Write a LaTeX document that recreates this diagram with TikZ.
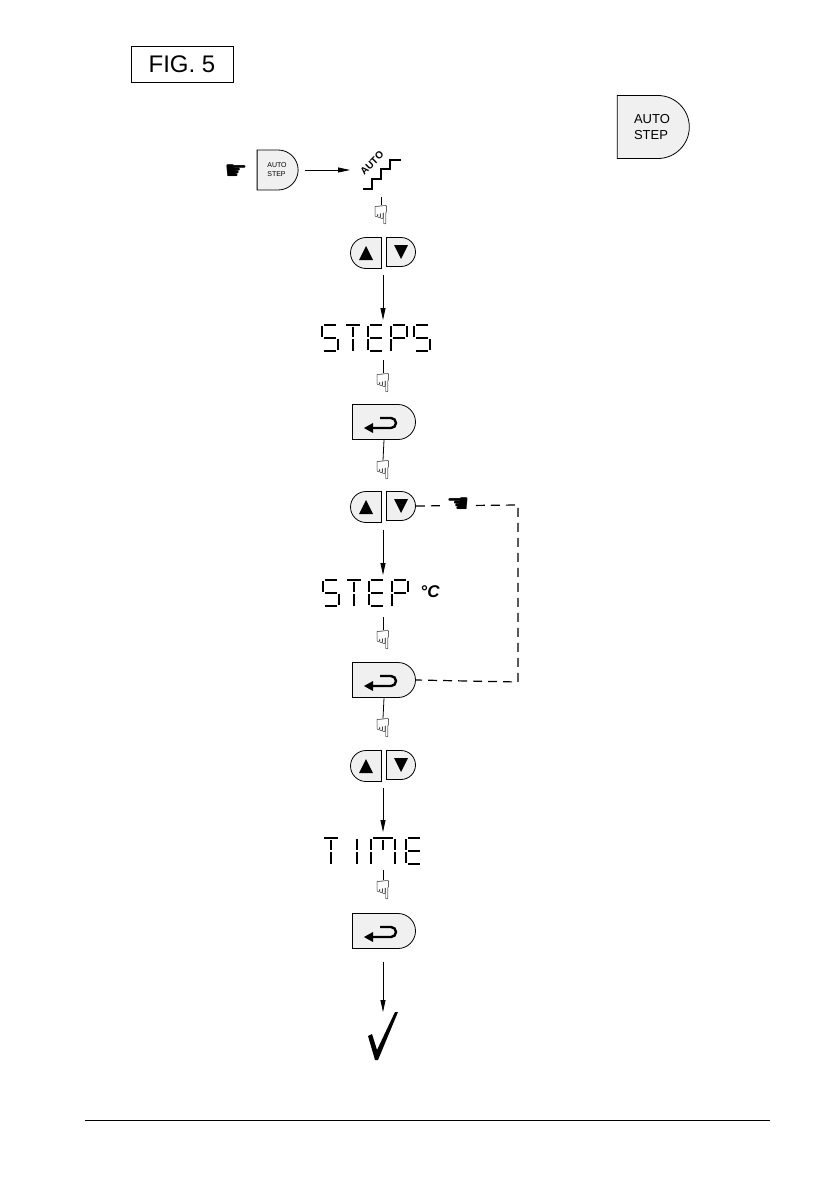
\documentclass[tikz,border=0pt]{standalone}
\usepackage{fontspec}
\setmainfont{Liberation Sans}
\newfontfamily\djv{DejaVu Sans}
\usetikzlibrary{shapes.misc,arrows.meta}
\tikzset{
  seg/.style={line width=1.4pt},
  btn/.style={draw,line width=0.8pt,fill=gray!12,rounded rectangle,inner sep=0pt},
  dbtn/.style={btn,rounded rectangle west arc=none},
  ubtn/.style={btn,rounded rectangle east arc=none},
  hand/.style={font=\djv\fontsize{26}{26}\selectfont,inner sep=0pt},
  conn/.style={line width=0.8pt},
  arr/.style={conn,-{Triangle[length=12pt,width=5pt]}},
  segS/.pic={\draw[seg] (2,0)--(14,0) (0,1)--(0,12) (2,13)--(14,13) (16,14)--(16,25) (2,26)--(14,26);},
  segT/.pic={\draw[seg] (1,0)--(15,0) (8,2)--(8,12) (8,14)--(8,26);},
  segE/.pic={\draw[seg] (2,0)--(14,0) (0,1)--(0,12) (2,13)--(14,13) (0,14)--(0,25) (2,26)--(14,26);},
  segP/.pic={\draw[seg] (2,0)--(14,0) (0,1)--(0,12) (16,1)--(16,12) (2,13)--(14,13) (0,14)--(0,26);},
  segI/.pic={\draw[seg] (8,1)--(8,12) (8,14)--(8,26);},
  segM/.pic={\draw[seg] (2,0)--(22,0) (0,1)--(0,12) (0,14)--(0,26) (12,2)--(12,12) (24,1)--(24,12) (24,14)--(24,26);},
}
\newcommand\updown[2]{%
  \node[ubtn,minimum width=28pt,minimum height=31pt] (#1u) at (366,#2) {};
  \fill ([yshift=7pt]#1u.center) -- ++(-7pt,-14pt) -- ++(14pt,0) -- cycle;
  \node[dbtn,minimum width=28pt,minimum height=29pt] (#1d) at (401,#2-1) {};
  \fill ([yshift=-7pt]#1d.center) -- ++(-7pt,14pt) -- ++(14pt,0) -- cycle;
  \coordinate (#1c) at (383,#2);}
\newcommand\enterbtn[2]{%
  \node[dbtn,minimum width=63pt,minimum height=35pt] (#1) at (384,#2) {};
  \draw[line width=2.4pt] ([xshift=-4pt,yshift=4pt]#1.center) -- ++(11pt,0) arc(90:-90:5pt) -- ++(-18pt,0);
  \fill ([xshift=-20pt,yshift=-6pt]#1.center) -- ++(9pt,5pt) -- ++(0,-10pt) -- cycle;}
\begin{document}
\begin{tikzpicture}[x=1pt,y=-1pt]
\useasboundingbox (0,0) rectangle (839,1191);
% title
\node[draw,line width=0.8pt,minimum width=102pt,minimum height=36pt,font=\fontsize{24}{24}\selectfont] (fig) at (182,64) {FIG. 5};
% top right key
\node[dbtn,minimum width=72pt,minimum height=63pt,align=left,font=\fontsize{13}{16}\selectfont] (key) at (652,127) {AUTO\\STEP};
% start row
\node[dbtn,minimum width=41pt,minimum height=40pt,align=left,font=\fontsize{7}{9}\selectfont] (sk) at (277,170) {AUTO\\STEP};
\node[hand] (h0) at (236,172) {☛};
\coordinate (auto) at (350,170);
\draw[line width=1.8pt] (363,189)--(372,189)--(372,179)--(381,179)--(381,169)--(390,169)--(390,160)--(401,160);
\node[rotate=45,font=\bfseries\fontsize{10}{10}\selectfont,inner sep=0pt] (autotxt) at (372,163) {AUTO};
\draw[arr] (sk.east) ++(6pt,0) -- (auto) ;
% chain
\node[hand] (h1) at (381,215) {☟};
\draw[conn] (381,197) -- (h1.north);
\updown{ud1}{253}
\draw[arr] (383,275) -- (383,320);
\begin{scope}[shift={(322,325)},xslant=0.12]
\pic at (0,0) {segS}; \pic at (23,0) {segT}; \pic at (46,0) {segE}; \pic at (69,0) {segP}; \pic at (92,0) {segS};
\end{scope}
\node[hand] (h2) at (383,383) {☟};
\draw[conn] (383,360) -- (h2.north);
\enterbtn{ent1}{422}
\node[hand] (h3) at (383,470) {☟};
\draw[conn] (ent1.south) -- (h3.north);
\updown{ud2}{507}
\draw[arr] (383,530) -- (383,575);
\begin{scope}[shift={(323,580)},xslant=0.12]
\pic at (0,0) {segS}; \pic at (23,0) {segT}; \pic at (46,0) {segE}; \pic at (69,0) {segP};
\end{scope}
\node[font=\bfseries\itshape\fontsize{17}{17}\selectfont] (degc) at (430,592) {°C};
\node[hand] (h4) at (383,640) {☟};
\draw[conn] (383,617) -- (h4.north);
\enterbtn{ent2}{680}
\node[hand] (h5) at (383,728) {☟};
\draw[conn] (ent2.south) -- (h5.north);
\updown{ud3}{766}
\draw[arr] (383,788) -- (383,832);
\begin{scope}[shift={(323,838)},xslant=0.12]
\pic at (0,0) {segT}; \pic at (26,0) {segI}; \pic at (48,0) {segM}; \pic at (83,0) {segE};
\end{scope}
\node[hand] (h6) at (383,890) {☟};
\draw[conn] (383,870) -- (h6.north);
\enterbtn{ent3}{931}
\coordinate (ck) at (383,1012);
\draw[arr] (383,962) -- (ck);
\fill (368,1036) -- (372,1034) -- (377,1050) -- (395,1012) -- (398,1012) -- (378,1060) -- (375,1060) -- cycle;
% dashed loop
\coordinate (lr) at (518,505);
\coordinate (lb) at (518,682);
\draw[line width=1.2pt,dash pattern=on 9pt off 6pt] (ud2d.east) -- (lr) -- (lb) -- (ent2.east);
\node[hand,fill=white,inner sep=1pt] (hl) at (458,505) {☚};
% footer
\draw[line width=0.6pt] (85,1120) -- (770,1120);
\end{tikzpicture}
\end{document}
